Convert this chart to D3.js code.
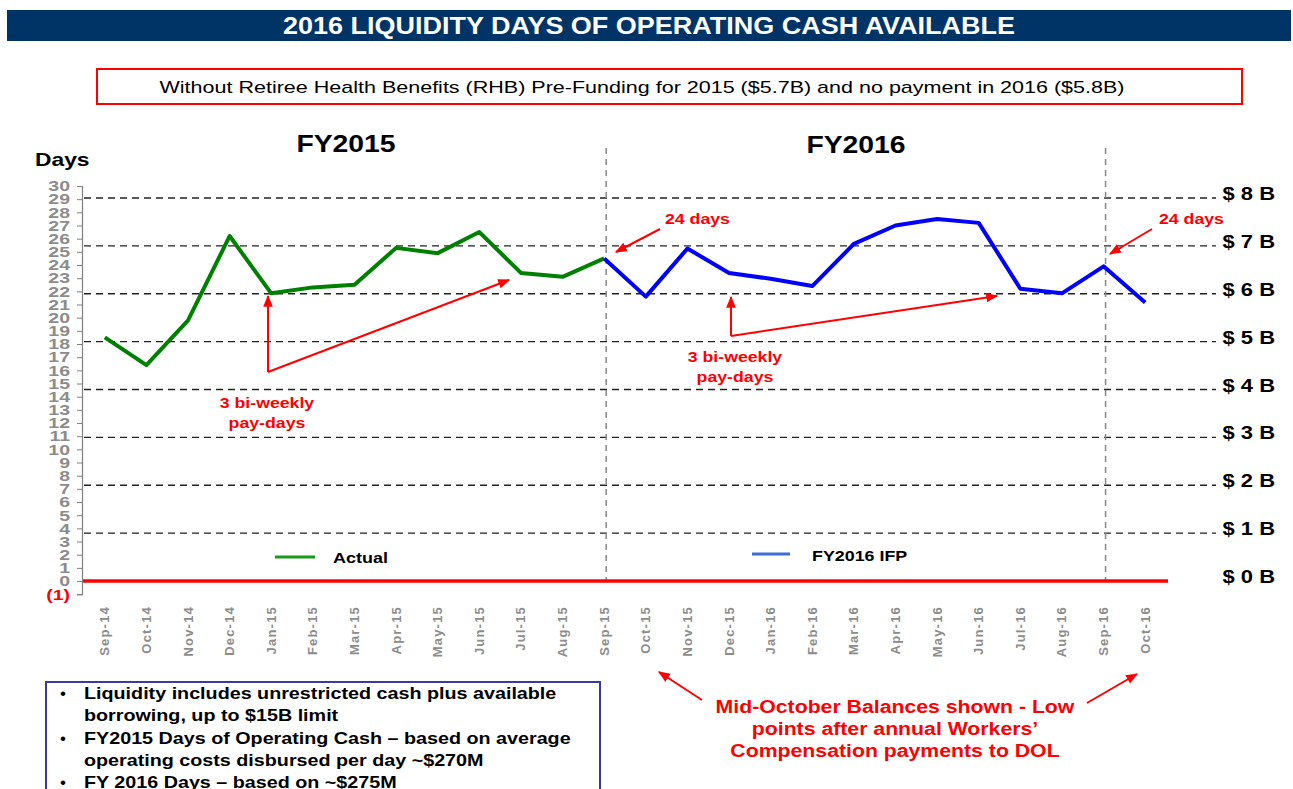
<!DOCTYPE html>
<html>
<head>
<meta charset="utf-8">
<script src="https://cdn.jsdelivr.net/npm/d3@7"></script>
<style>
  body { margin: 0; background: #fff; }
  svg text { font-family: "Liberation Sans", Arial, sans-serif; }
</style>
</head>
<body>
<div id="chart"></div>
<script>
// months on the x axis
var months = ["Sep-14","Oct-14","Nov-14","Dec-14","Jan-15","Feb-15","Mar-15","Apr-15","May-15","Jun-15","Jul-15","Aug-15",
              "Sep-15","Oct-15","Nov-15","Dec-15","Jan-16","Feb-16","Mar-16","Apr-16","May-16","Jun-16","Jul-16","Aug-16","Sep-16","Oct-16"];

// days of operating cash
var actualMonths = months.slice(0, 13);
var actualDays = [18.5, 16.4, 19.8, 26.2, 21.85, 22.3, 22.5, 25.3, 24.9, 26.5, 23.4, 23.1, 24.5];

var ifpMonths = months.slice(12);
var ifpDays = [24.5, 21.6, 25.25, 23.4, 22.95, 22.4, 25.6, 27.0, 27.5, 27.2, 22.2, 21.85, 23.9, 21.15];

// right side: billions, converted to days at ~$275M / day
var billions = [0, 1, 2, 3, 4, 5, 6, 7, 8];
var perDay = 0.275;
var dayTicks = d3.range(-1, 31);
var fyLines = ["Sep-15", "Sep-16"];

var W = 1293, H = 789;
var svg = d3.select("#chart").append("svg").attr("width", W).attr("height", H);

// the slide text is a bit wider than plain Arial, stretch it
function stretch(sel, k) {
  sel.each(function() {
    var w = this.getComputedTextLength();
    d3.select(this).attr("textLength", w * k).attr("lengthAdjust", "spacingAndGlyphs");
  });
  return sel;
}

var defs = svg.append("defs");
defs.append("marker").attr("id", "arr").attr("viewBox", "0 0 10 10")
  .attr("refX", 9).attr("refY", 5).attr("markerWidth", 6).attr("markerHeight", 6)
  .attr("orient", "auto")
  .append("path").attr("d", "M0,1 L10,5 L0,9 Z").attr("fill", "#ff0000");

var x = d3.scalePoint().domain(months).range([84, 1166]).padding(0.5);
var y = d3.scaleLinear().domain([-1, 30]).range([594.2, 186]);

// title bar
svg.append("rect").attr("x", 7).attr("y", 10).attr("width", 1284).attr("height", 31).attr("fill", "#003366");
svg.append("text").attr("x", 649).attr("y", 34).attr("text-anchor", "middle")
  .attr("fill", "#fff").attr("font-weight", "bold").attr("font-size", 23)
  .attr("textLength", 732).attr("lengthAdjust", "spacingAndGlyphs")
  .text("2016 LIQUIDITY DAYS OF OPERATING CASH AVAILABLE");

// red subtitle box
svg.append("rect").attr("x", 97).attr("y", 69).attr("width", 1145).attr("height", 35)
  .attr("fill", "none").attr("stroke", "#ff0000").attr("stroke-width", 2);
svg.append("text").attr("x", 642).attr("y", 93).attr("text-anchor", "middle")
  .attr("font-size", 17).attr("textLength", 965).attr("lengthAdjust", "spacingAndGlyphs")
  .text("Without Retiree Health Benefits (RHB) Pre-Funding for 2015 ($5.7B) and no payment in 2016 ($5.8B)");

// FY headers
stretch(svg.append("text").attr("x", 346).attr("y", 152).attr("text-anchor", "middle")
  .attr("font-weight", "bold").attr("font-size", 24).text("FY2015"), 1.18);
stretch(svg.append("text").attr("x", 856).attr("y", 153).attr("text-anchor", "middle")
  .attr("font-weight", "bold").attr("font-size", 24).text("FY2016"), 1.18);

stretch(svg.append("text").attr("x", 35).attr("y", 166).attr("font-weight", "bold").attr("font-size", 19).text("Days"), 1.2);

// dashed billion lines
var gB = svg.append("g");
gB.selectAll("line").data(billions.filter(function(d){ return d > 0; })).enter().append("line")
  .attr("x1", 84).attr("x2", 1216)
  .attr("y1", function(d){ return y(d / perDay); }).attr("y2", function(d){ return y(d / perDay); })
  .attr("stroke", "#222").attr("stroke-width", 1.4).attr("stroke-dasharray", "7,5");
stretch(gB.selectAll("text").data(billions).enter().append("text")
  .attr("x", 1275).attr("y", function(d){ return y(d / perDay) + 2; })
  .attr("text-anchor", "end").attr("font-weight", "bold").attr("font-size", 18)
  .text(function(d){ return "$ " + d + " B"; }), 1.22);

// fiscal year dividers
svg.selectAll(".fy").data(fyLines).enter().append("line")
  .attr("x1", function(d){ return x(d) + 2; }).attr("x2", function(d){ return x(d) + 2; })
  .attr("y1", 148).attr("y2", y(0))
  .attr("stroke", "#888").attr("stroke-width", 1.5).attr("stroke-dasharray", "6,5");

// zero line
svg.append("line").attr("x1", 82).attr("x2", 1168).attr("y1", y(0)).attr("y2", y(0))
  .attr("stroke", "#ff0000").attr("stroke-width", 3.5);

// left axis
var yAxis = d3.axisLeft(y).tickValues(dayTicks).tickSize(5).tickPadding(7)
  .tickFormat(function(d){ return d < 0 ? "(1)" : d; });
var gy = svg.append("g").attr("transform", "translate(82,0)").call(yAxis);
gy.select(".domain").attr("stroke", "#808080").attr("stroke-width", 1.2);
gy.selectAll(".tick line").attr("stroke", "#808080");
stretch(gy.selectAll(".tick text").attr("fill", function(d){ return d < 0 ? "#ff0000" : "#8c8c8c"; })
  .attr("font-size", 15).attr("font-weight", "bold")
  .attr("font-family", "'Liberation Sans', Arial, sans-serif"), 1.3);

// x labels
svg.append("g").selectAll("text").data(months).enter().append("text")
  .attr("transform", function(d){ return "translate(" + (x(d) + 4.5) + ",606) rotate(-90)"; })
  .attr("text-anchor", "end").attr("font-size", 13).attr("font-weight", "bold")
  .attr("letter-spacing", "1.2px").attr("fill", "#8c8c8c")
  .text(function(d){ return d; });

// lines
var line = d3.line().x(function(d){ return x(d[0]); }).y(function(d){ return y(d[1]); });
svg.append("path").datum(d3.zip(actualMonths, actualDays)).attr("d", line)
  .attr("fill", "none").attr("stroke", "#008000").attr("stroke-width", 4).attr("stroke-linejoin", "round");
svg.append("path").datum(d3.zip(ifpMonths, ifpDays)).attr("d", line)
  .attr("fill", "none").attr("stroke", "#0000ff").attr("stroke-width", 4).attr("stroke-linejoin", "round");

// legend
svg.append("line").attr("x1", 275).attr("x2", 315).attr("y1", 557).attr("y2", 557)
  .attr("stroke", "#1a9a1a").attr("stroke-width", 3);
stretch(svg.append("text").attr("x", 333).attr("y", 563).attr("font-weight", "bold").attr("font-size", 15).text("Actual"), 1.2);
svg.append("line").attr("x1", 752).attr("x2", 790).attr("y1", 554).attr("y2", 554)
  .attr("stroke", "#3b6fd4").attr("stroke-width", 3);
stretch(svg.append("text").attr("x", 812).attr("y", 561).attr("font-weight", "bold").attr("font-size", 15).text("FY2016 IFP"), 1.19);

// annotations
function arrow(x1, y1, x2, y2, head) {
  var l = svg.append("line").attr("x1", x1).attr("y1", y1).attr("x2", x2).attr("y2", y2)
    .attr("stroke", "#ff0000").attr("stroke-width", 2);
  if (head) l.attr("marker-end", "url(#arr)");
}
function redText(tx, ty, s, size, anchor) {
  return stretch(svg.append("text").attr("x", tx).attr("y", ty).attr("fill", "#ff0000")
    .attr("font-weight", "bold").attr("font-size", size).attr("text-anchor", anchor || "start").text(s), 1.18);
}

redText(665, 224, "24 days", 15);
arrow(660, 229, 616, 252, true);
redText(1159, 224, "24 days", 15);
arrow(1152, 229, 1110, 254, true);

// 3 bi-weekly pay-days (FY2015)
arrow(268, 372, 268, 296, true);
arrow(268, 372, 509, 280, true);
redText(267, 408, "3 bi-weekly", 15, "middle");
redText(267, 428, "pay-days", 15, "middle");

// 3 bi-weekly pay-days (FY2016)
arrow(731, 336, 731, 297, true);
arrow(731, 336, 997, 296, true);
redText(735, 362, "3 bi-weekly", 15, "middle");
redText(735, 382, "pay-days", 15, "middle");

// bottom red note
redText(895, 713, "Mid-October Balances shown - Low", 18, "middle");
redText(895, 735, "points after annual Workers\u2019", 18, "middle");
redText(895, 757, "Compensation payments to DOL", 18, "middle");
arrow(702, 700, 659, 672, true);
arrow(1087, 703, 1137, 674, true);

// notes box
svg.append("rect").attr("x", 46).attr("y", 682).attr("width", 554).attr("height", 120)
  .attr("fill", "none").attr("stroke", "#3a3aa0").attr("stroke-width", 2);
var notes = [
  ["\u2022", "Liquidity includes unrestricted cash plus available"],
  ["", "borrowing, up to $15B limit"],
  ["\u2022", "FY2015 Days of Operating Cash \u2013 based on average"],
  ["", "operating costs disbursed per day ~$270M"],
  ["\u2022", "FY 2016 Days \u2013 based on ~$275M"]
];
notes.forEach(function(n, i) {
  var ty = 699 + i * 22.3;
  svg.append("text").attr("x", 60).attr("y", ty).attr("font-size", 17).text(n[0]);
  stretch(svg.append("text").attr("x", 84).attr("y", ty).attr("font-size", 17).attr("font-weight", "bold").text(n[1]), 1.16);
});
</script>
</body>
</html>
